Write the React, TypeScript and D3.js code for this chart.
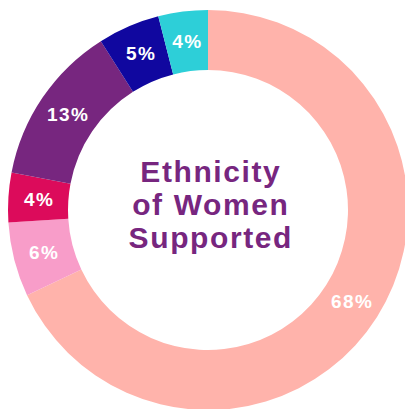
import * as d3 from 'd3';

const labels = ['White', 'Mixed', 'Other', 'Black', 'Asian', 'Unknown'];
const values = [68, 6, 4, 13, 5, 4];
const colors = ['#ffb3ab', '#f89dc9', '#dc0b5b', '#77267f', '#10079f', '#2dcfd8'];
const titleLines = ['Ethnicity', 'of Women', 'Supported'];

const W = 405;
const H = 409;

export default function App() {
    const cx = 208;
    const cy = 210;
    const outer = 200;
    const inner = 140;

    const pie = d3.pie<number>().sort(null).value((d) => d);
    const arcs = pie(values);
    const arc = d3.arc<d3.PieArcDatum<number>>().innerRadius(inner).outerRadius(outer);

    // letter-spacing adds a trailing gap, shift by half of it to stay centred
    const labelLs = 1.4;
    const titleLs = 1.6;

    return (
        <svg
            width={W}
            height={H}
            style={{ position: 'absolute', left: 0, top: 0 }}
            fontFamily="'Liberation Sans', Arial, sans-serif"
        >
            <rect width={W} height={H} fill="#fff" />
            <g transform={`translate(${cx},${cy})`}>
                {arcs.map((a, i) => (
                    <path key={labels[i]} d={arc(a) as string} fill={colors[i]} />
                ))}
                {arcs.map((a, i) => {
                    const [x, y] = arc.centroid(a);
                    return (
                        <text
                            key={'l' + i}
                            x={x + labelLs / 2}
                            y={y}
                            textAnchor="middle"
                            dominantBaseline="central"
                            fill="#fff"
                            fontWeight="bold"
                            fontSize={19}
                            letterSpacing={labelLs}
                        >
                            {values[i]}%
                        </text>
                    );
                })}
                {titleLines.map((t, i) => (
                    <text
                        key={t}
                        x={2 + titleLs / 2}
                        y={-28 + i * 33}
                        textAnchor="middle"
                        fill="#77267f"
                        fontWeight="bold"
                        fontSize={30}
                        letterSpacing={titleLs}
                    >
                        {t}
                    </text>
                ))}
            </g>
        </svg>
    );
}
